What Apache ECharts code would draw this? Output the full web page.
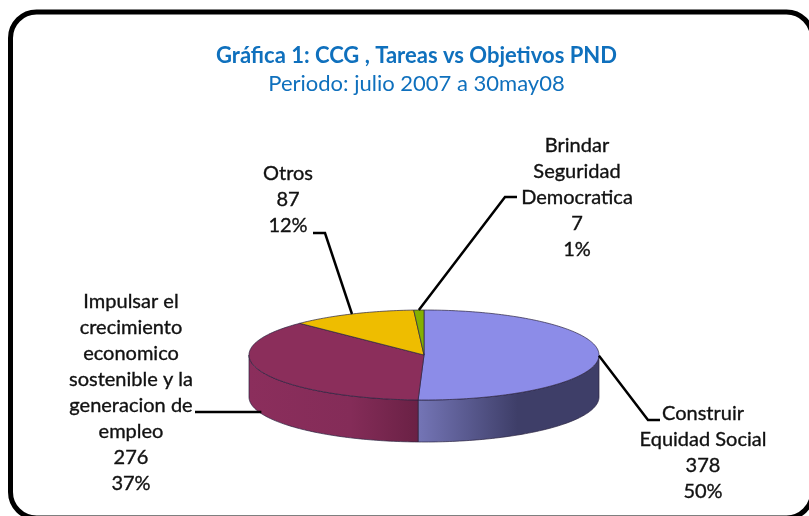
<!DOCTYPE html>
<html>
<head>
<meta charset="utf-8">
<title>Gráfica 1</title>
<script src="https://cdn.jsdelivr.net/npm/echarts@6/dist/echarts.min.js"></script>
<style>
html, body {margin: 0; padding: 0; background: #fff;}
#chart {width: 809px; height: 516px;}
</style>
</head>
<body>
<div id="chart"></div>
<script>
const categories = [
    "Construir\nEquidad Social",
    "Impulsar el\ncrecimiento\neconomico\nsostenible y la\ngeneracion de\nempleo",
    "Otros",
    "Brindar\nSeguridad\nDemocratica"
]
const values = [378, 276, 87, 7]
const percents = ["50%", "37%", "12%", "1%"]

const topColors = ["#8c8ce8", "#8b2e5b", "#eebd00", "#84b000"]
// dark side of the slice, left to right
const sideStops = [
    [[0, "#7475b6"], [0.55, "#3e3e68"], [1, "#3e3e68"]],
    [[0, "#8b2e5c"], [0.6, "#842c58"], [1, "#6a2145"]],
    null,
    null
]

// ellipse of the tilted pie
const cx = 424, cy = 355, rx = 175, ry = 45, depth = 42

// label centre, first line y, leader elbow points (from the label to the rim)
const labelAt = [
    {x: 703, y: 414, leader: [[660, 420], [648, 420]]},
    {x: 131, y: 302, leader: [[195, 412]]},
    {x: 288, y: 174, leader: [[313, 233], [325, 233]]},
    {x: 577, y: 146, leader: [[517, 197], [505, 197]]}
]

const total = values.reduce((a, b) => a + b, 0)
const startOf = i => values.slice(0, i).reduce((a, b) => a + b, 0) / total * Math.PI * 2
const rim = (a, dy = 0) => [cx + rx * Math.sin(a), cy - ry * Math.cos(a) + dy]

function arc(a0, a1, dy = 0) {
    const n = Math.max(2, Math.ceil((a1 - a0) / 0.02))
    const pts = []
    for (let i = 0; i <= n; i++)
        pts.push(rim(a0 + (a1 - a0) * i / n, dy))
    return pts
}

function renderSlice(params, api) {
    const i = params.dataIndex
    const a0 = startOf(i), a1 = startOf(i + 1)
    const children = []

    // side wall: only the part turned to the viewer
    const s0 = Math.max(a0, Math.PI / 2), s1 = Math.min(a1, Math.PI * 1.5)
    if (s1 > s0 && sideStops[i]) {
        const top = arc(s0, s1), bottom = arc(s0, s1, depth).reverse()
        const xs = top.map(p => p[0])
        children.push({
            type: "polygon",
            shape: {points: top.concat(bottom)},
            style: {
                fill: new echarts.graphic.LinearGradient(
                    Math.min(...xs), 0, Math.max(...xs), 0,
                    sideStops[i].map(s => ({offset: s[0], color: s[1]})), true),
                stroke: "#2b2440", lineWidth: 0.7
            }
        })
    }

    children.push({
        type: "polygon",
        shape: {points: [[cx, cy]].concat(arc(a0, a1))},
        style: {fill: topColors[i], stroke: "#2b2440", lineWidth: 0.7}
    })
    return {type: "group", children}
}

function renderLabel(params, api) {
    const i = params.dataIndex
    const at = labelAt[i]
    const mid = (startOf(i) + startOf(i + 1)) / 2
    // the left slice's leader meets the wall just above its bottom edge
    const end = rim(mid, i === 1 ? depth - 1.6 : 0)
    const lines = [categories[i], api.value(0), percents[i]].join("\n").split("\n")
    return {
        type: "group",
        children: [
            {
                type: "polyline",
                shape: {points: at.leader.concat([end])},
                style: {fill: "none", stroke: "#000", lineWidth: 2.5}
            },
            ...lines.map((text, k) => ({
                type: "text",
                style: {
                    text, x: at.x, y: at.y + k * 25.9,
                    align: "center", verticalAlign: "middle",
                    fill: "#111", stroke: "#111", lineWidth: 0.35, font: "20px Lato"
                }
            }))
        ]
    }
}

const chart = echarts.init(document.getElementById("chart"))
chart.setOption({
    animation: false,
    backgroundColor: "#fff",
    title: {
        text: "Gráfica 1: CCG , Tareas vs Objetivos PND",
        subtext: "Periodo: julio 2007 a 30may08",
        left: 411.5, top: 40, textAlign: "center", itemGap: 6,
        textStyle: {color: "#0f70bd", fontFamily: "Lato", fontWeight: "bold", fontSize: 22},
        subtextStyle: {color: "#0f70bd", fontFamily: "Lato", fontSize: 22}
    },
    graphic: [{
        type: "rect",
        shape: {x: 10.5, y: 12, width: 802, height: 506, r: 26},
        style: {fill: "none", stroke: "#000", lineWidth: 5}
    }],
    series: [
        {type: "custom", coordinateSystem: "none", renderItem: renderSlice, data: values.map(v => [v]), silent: true},
        {type: "custom", coordinateSystem: "none", renderItem: renderLabel, data: values.map(v => [v]), silent: true, z: 3}
    ]
})
</script>
</body>
</html>
